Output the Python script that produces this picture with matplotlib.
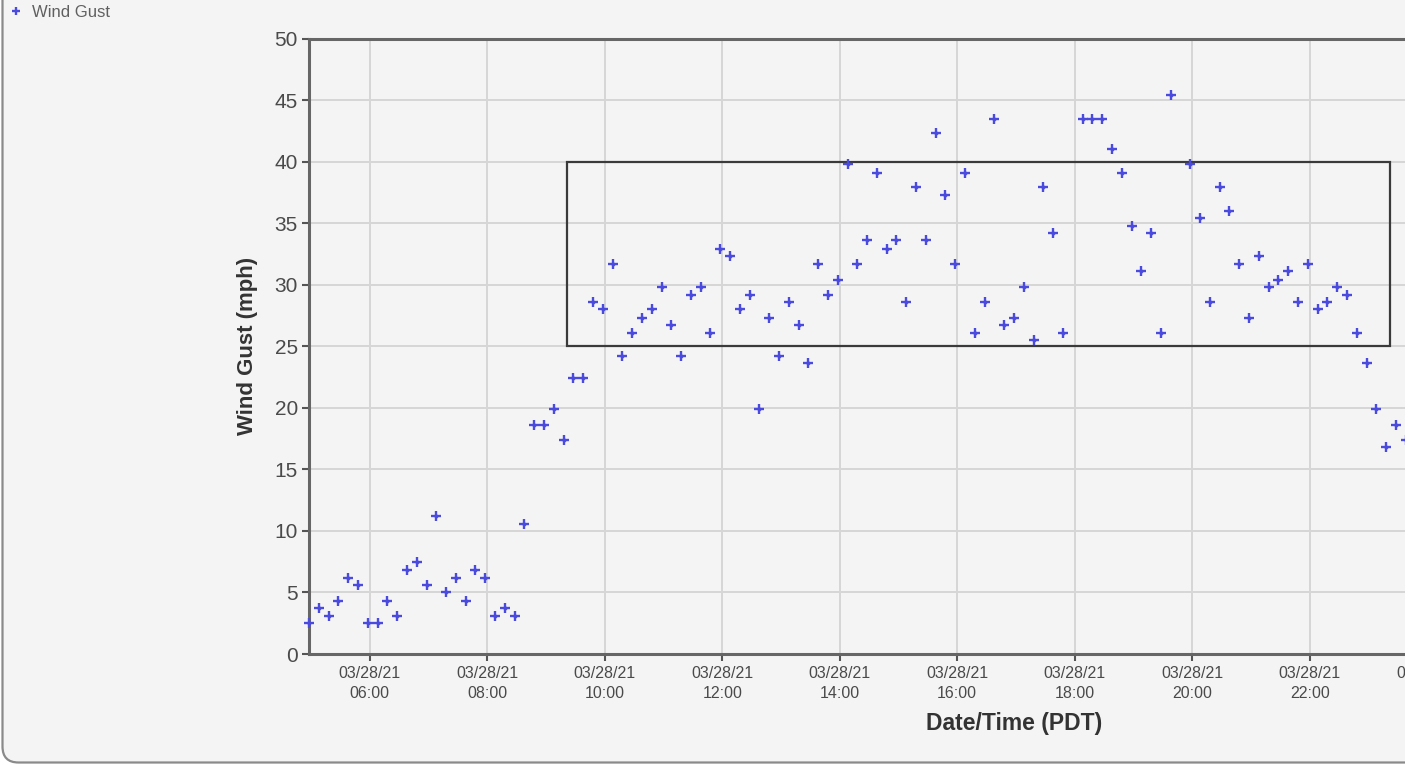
import numpy as np
import pandas as pd
import matplotlib
matplotlib.use("Agg")
import matplotlib.pyplot as plt
import matplotlib.dates as mdates
from matplotlib.patches import FancyBboxPatch, Rectangle
from matplotlib.transforms import IdentityTransform

plt.rcParams['font.family'] = ['Liberation Sans', 'DejaVu Sans']

# 10-minute wind gust reports, 03/28/21 (PDT); nan = no report
start_time = "2021-03-28 04:58"
gust_mph = [
    2.5, 3.7, 3.1, 4.3, 6.2, 5.6, 2.5, 2.5, 4.3, 3.1,
    6.8, 7.5, 5.6, 11.2, 5.0, 6.2, 4.3, 6.8, 6.2, 3.1,
    3.7, 3.1, 10.6, 18.6, 18.6, 19.9, 17.4, 22.4, 22.4, 28.6,
    28.0, 31.7, 24.2, 26.1, 27.3, 28.0, 29.8, 26.7, 24.2, 29.2,
    29.8, 26.1, 32.9, 32.3, 28.0, 29.2, 19.9, 27.3, 24.2, 28.6,
    26.7, 23.6, 31.7, 29.2, 30.4, 39.8, 31.7, 33.6, 39.1, 32.9,
    33.6, 28.6, 37.9, 33.6, 42.3, 37.3, 31.7, 39.1, 26.1, 28.6,
    43.5, 26.7, 27.3, 29.8, 25.5, 37.9, 34.2, 26.1, np.nan, 43.5,
    43.5, 43.5, 41.0, 39.1, 34.8, 31.1, 34.2, 26.1, 45.4, np.nan,
    39.8, 35.4, 28.6, 37.9, 36.0, 31.7, 27.3, 32.3, 29.8, 30.4,
    31.1, 28.6, 31.7, 28.0, 28.6, 29.8, 29.2, 26.1, 23.6, 19.9,
    16.8, 18.6, 17.4,
]
times = pd.date_range(start_time, periods=len(gust_mph), freq="10min")

# highlighted window
box_start, box_end = "2021-03-28 09:22", "2021-03-28 23:22"
box_low, box_high = 25, 40

W, H = 1414, 765
fig = plt.figure(figsize=(W / 100, H / 100), dpi=100, facecolor="white")

# rounded panel behind the chart (pixel coords)
panel = FancyBboxPatch((2.5, 2.5), 1600, 900, boxstyle="round,pad=0,rounding_size=16",
                       transform=IdentityTransform(), facecolor="#f4f4f4",
                       edgecolor="#8a8a8a", linewidth=1.6, zorder=-5)
fig.add_artist(panel)

# axes: 1 hour = 58.75 px, spans 24 h, so it runs past the right edge
left_px, bottom_px, top_px = 309, 765 - 654, 765 - 38.5
ax = fig.add_axes([left_px / W, bottom_px / H, 24 * 58.75 / W, (top_px - bottom_px) / H])
ax.set_facecolor("none")

pts, = ax.plot(times, gust_mph, linestyle="none", marker="+", markersize=6.8,
               markeredgewidth=1.7, color="#4a4ade", clip_on=False, zorder=4,
               label="Wind Gust")
# small diamond in the middle of each cross
ax.plot(times, gust_mph, linestyle="none", marker="D", markersize=2.6,
        markeredgewidth=0, color="#4a4ade", clip_on=False, zorder=4)

t0 = pd.Timestamp(start_time)
ax.set_xlim(t0, t0 + pd.Timedelta(hours=24))
ax.set_ylim(0, 50)

x0 = mdates.date2num(pd.Timestamp(box_start))
x1 = mdates.date2num(pd.Timestamp(box_end))
ax.add_patch(Rectangle((x0, box_low), x1 - x0, box_high - box_low, fill=False,
                       edgecolor="#3a3a3a", linewidth=1.6, zorder=3))

ax.set_yticks(np.arange(0, 51, 5))
ax.xaxis.set_major_locator(mdates.HourLocator(byhour=range(0, 24, 2)))
ax.xaxis.set_major_formatter(mdates.DateFormatter("%m/%d/%y\n%H:%M"))
ax.grid(True, color="#d6d6d6", linewidth=1.4, zorder=0)
ax.set_axisbelow(True)

for s in ["left", "bottom", "top"]:
    ax.spines[s].set_color("#666666")
    ax.spines[s].set_linewidth(2.2)
ax.spines["right"].set_visible(False)

ax.tick_params(axis="y", labelsize=15, labelcolor="#4a4a4a", color="#555555",
               length=5, width=1.5, pad=3)
ax.tick_params(axis="x", labelsize=11.5, labelcolor="#4a4a4a", color="#555555",
               length=5, width=1.5, pad=4)
for lbl in ax.get_xticklabels():
    lbl.set_linespacing(1.4)

ax.set_ylabel("Wind Gust (mph)", fontsize=16, fontweight="bold", color="#333333", labelpad=12)
ax.set_xlabel("Date/Time (PDT)", fontsize=16.5, fontweight="bold", color="#333333", labelpad=8)

fig.legend(handles=[pts], loc="upper left", bbox_to_anchor=(0.004, 1.0), frameon=False,
           fontsize=12, handlelength=0.6, handletextpad=0.7, borderaxespad=0.1,
           borderpad=0.2, labelcolor="#606060", markerscale=0.75)

# the screenshot is cut off at the right
fig.add_artist(Rectangle((1405, 0), 30, H, transform=IdentityTransform(),
                         facecolor="white", edgecolor="none", zorder=20))

fig.savefig("out.png", dpi=100)
